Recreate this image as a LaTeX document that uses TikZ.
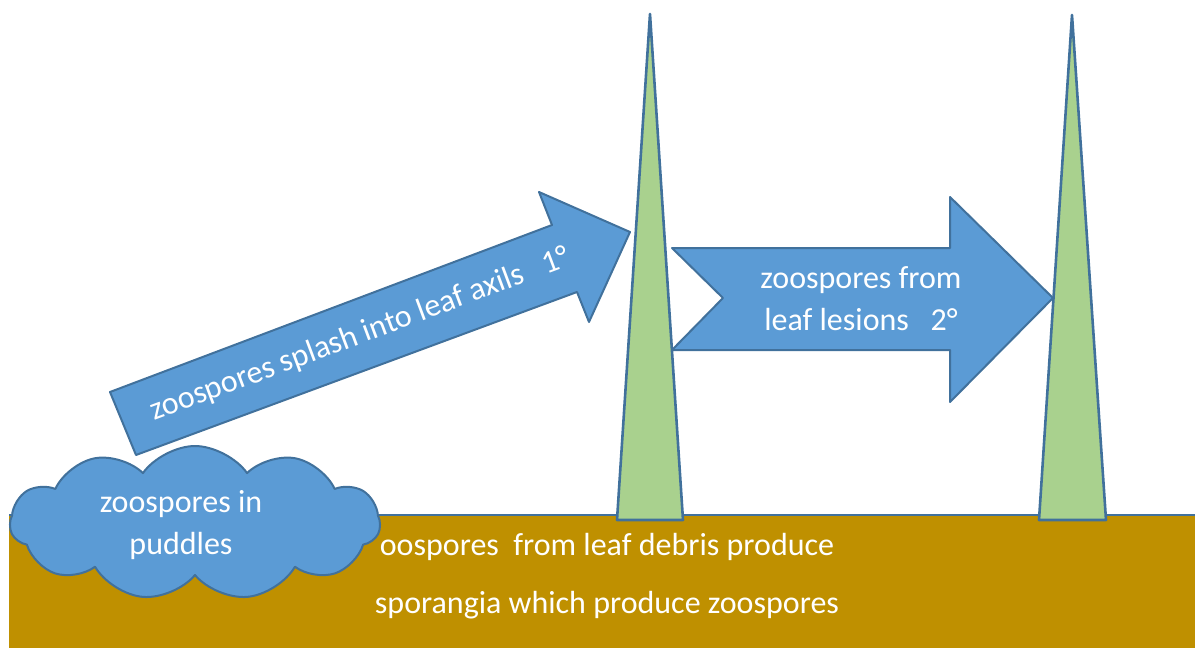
\documentclass[tikz,border=0pt]{standalone}
\usepackage{fontspec}
\setmainfont{Carlito}
\usetikzlibrary{shapes.symbols}
\definecolor{fillblue}{HTML}{5B9BD5}
\definecolor{lineblue}{HTML}{41719C}
\definecolor{leafgreen}{HTML}{A9D18E}
\definecolor{soil}{HTML}{BF9000}
\tikzstyle{blob}=[fill=fillblue, draw=lineblue, line width=1pt, line join=round]
\tikzstyle{leaf}=[fill=leafgreen, draw=lineblue, line width=1.3pt, line join=round]
\tikzstyle{txt}=[text=white, align=center, inner sep=0, font=\fontsize{16}{21}\selectfont]

\begin{document}
\begin{tikzpicture}[x=.5pt, y=-.5pt]
\useasboundingbox (0,0) rectangle (1195,648);
% ground
\fill[soil] (9,515) rectangle (1195,648);
\draw[lineblue, line width=1.2pt] (9,515)--(1195,515);
% splash arrow and puddle
\draw[blob] (110,392)--(552,225)--(539,192)--(630,232)--(589,322)--(577,292)--(136,455)--cycle;
\node at (195,523) [blob, cloud, cloud puffs=11, cloud puff arc=110, cloud ignores aspect, minimum width=185pt, minimum height=77pt, inner sep=0](puddle){};
% leaves
\draw[leaf] (650,14)--(683,520)--(617,520)--cycle;
\draw[leaf] (1072,15)--(1106,520)--(1039,520)--cycle;
% lesion arrow
\draw[blob] (672,248)--(950,248)--(950,197)--(1053,298)--(950,402)--(950,350)--(672,350)--(723,298)--cycle;
\node at (360,335) [txt, rotate=20.5](splash){zoospores splash into leaf axils\ \ \ 1°};
\node at (861,299) [txt](lesion){zoospores from\\leaf lesions\ \ \ 2°};
\node at (181,525) [txt](pud){zoospores in\\puddles};
\node at (607,555) [txt, anchor=base](deb1){oospores\ \ from leaf debris produce};
\node at (607,613) [txt, anchor=base](deb2){sporangia which produce zoospores};
\end{tikzpicture}
\end{document}
